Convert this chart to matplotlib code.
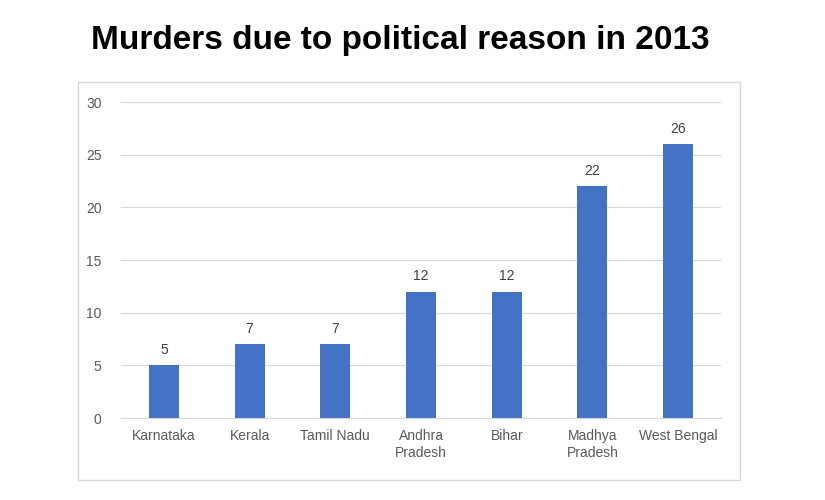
import matplotlib
matplotlib.use("Agg")
import matplotlib.pyplot as plt
from matplotlib.patches import Rectangle

states = ["Karnataka", "Kerala", "Tamil Nadu", "Andhra\nPradesh", "Bihar", "Madhya\nPradesh", "West Bengal"]
murders = [5, 7, 7, 12, 12, 22, 26]
yticks = [0, 5, 10, 15, 20, 25, 30]

W, H = 825, 500
fig = plt.figure(figsize=(8.25, 5), dpi=100)
fig.patches.append(Rectangle((78/W, 1-480/H), (740-78)/W, (480-82)/H, transform=fig.transFigure,
                             fill=False, edgecolor="#d9d9d9", linewidth=1))
ax = fig.add_axes([121/W, 1-418/H, (721-121)/W, (418-102)/H])
x = range(len(states))
bars = ax.bar(x, murders, width=0.35, color="#4472c4", zorder=3)
for xi, v in zip(x, murders):
    ax.text(xi, v + 0.8, str(v), ha="center", va="bottom", fontsize=10, color="#404040", family="Liberation Sans")
ax.set_ylim(0, 30)
ax.set_xlim(-0.5, len(states) - 0.5)
ax.set_yticks(yticks)
ax.set_xticks(list(x))
ax.set_xticklabels(states, fontsize=10, color="#595959", family="Liberation Sans", linespacing=1.3)
ax.tick_params(axis="y", labelsize=10, labelcolor="#595959", length=0, pad=14)
ax.tick_params(axis="x", length=0, pad=8)
for lab in ax.get_yticklabels():
    lab.set_family("Liberation Sans")
ax.grid(axis="y", color="#d9d9d9", linewidth=0.8, zorder=0)
for s in ["top", "right", "left"]:
    ax.spines[s].set_visible(False)
ax.spines["bottom"].set_color("#d9d9d9")
fig.text(400/W, 1-40/H, "Murders due to political reason in 2013", ha="center", va="center",
         fontsize=24, fontweight="bold", family="Liberation Sans", color="black")
fig.savefig("out.png", dpi=100)
